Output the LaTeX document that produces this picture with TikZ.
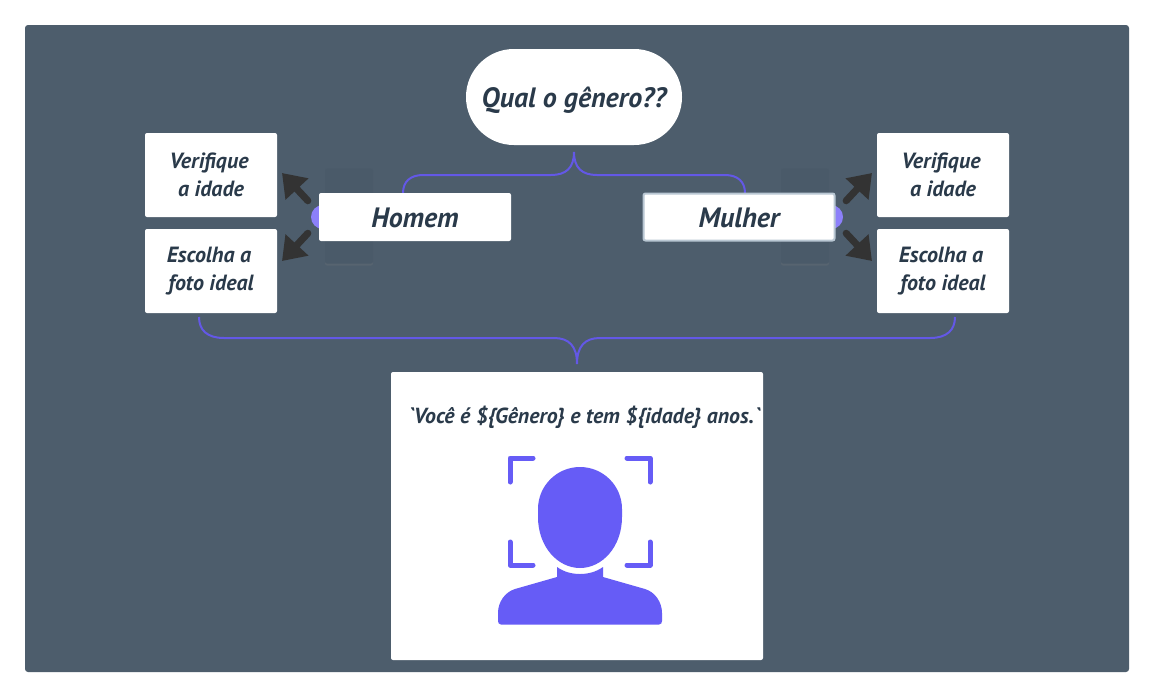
\documentclass[tikz,border=0pt]{standalone}
\usepackage{fontspec}
\setmainfont{PT Sans}
\usetikzlibrary{arrows.meta,shadows}
\definecolor{panelcol}{HTML}{4D5D6C}
\definecolor{ghostcol}{HTML}{4A5A69}
\definecolor{textcol}{HTML}{2A3A4A}
\definecolor{bracecol}{HTML}{6358E6}
\definecolor{iconcol}{HTML}{665CF6}
\definecolor{dotcol}{HTML}{8C80FA}
\definecolor{arrowcol}{HTML}{333333}
\definecolor{edgecol}{HTML}{B9C7D3}
\newcommand{\linegap}{\hspace*{4pt}}
\begin{document}
\begin{tikzpicture}[
    x=1pt, y=-1pt,
    panel/.style={fill=panelcol, rounded corners=3pt, minimum width=1104pt, minimum height=647pt, inner sep=0pt},
    ghost/.style={fill=ghostcol, rounded corners=2pt, minimum width=48pt, minimum height=95pt, inner sep=0pt, drop shadow={shadow xshift=0pt, shadow yshift=-2pt, opacity=0.2}},
    dotnode/.style={circle, fill=dotcol, minimum size=24pt, inner sep=0pt},
    whitebox/.style={fill=white, rounded corners=2pt, inner sep=0pt, align=center, text=textcol, font=\bfseries\itshape\fontsize{22}{28}\selectfont, minimum width=132pt, minimum height=84pt},
    genderbox/.style={whitebox, font=\bfseries\itshape\fontsize{28}{30}\selectfont, text height=24pt, text depth=4pt, minimum width=192pt, minimum height=48pt},
    pillnode/.style={whitebox, rounded corners=47.9pt, font=\bfseries\itshape\fontsize{28}{30}\selectfont, text height=24pt, text depth=4pt, minimum width=216pt, minimum height=96pt},
    resultbox/.style={whitebox, minimum width=372pt, minimum height=288pt},
    brace/.style={draw=bracecol, line width=2pt},
    blockarrow/.style={draw=arrowcol, line width=7pt, line cap=round, shorten <=10pt, -{Triangle[length=22pt, width=30pt]}},
    bracket/.style={draw=iconcol, line width=5pt, line cap=round, line join=round}
]
\useasboundingbox (0,0) rectangle (1154,697);
\fill[white] (0,0) rectangle (1154,697);
\node[panel](bg) at (577,348.5) {};

\node[ghost](ghostL) at (349,216) {};
\node[ghost](ghostR) at (805,216) {};
\node[dotnode](dotL) at (323,217) {};
\node[dotnode](dotR) at (831,217) {};

\coordinate (stemT) at (574,152);
\coordinate (stemB) at (577,364);

\node[pillnode](question) at (574,97) {Qual o gênero??};
\node[whitebox](verifyL) at (211,175) {Verifique\linegap\\a idade};
\node[whitebox](photoL) at (211,271) {Escolha a\linegap\\foto ideal};
\node[whitebox](verifyR) at (943,175) {Verifique\linegap\\a idade};
\node[whitebox](photoR) at (943,271) {Escolha a\linegap\\foto ideal};
\node[resultbox](result) at (577,516) {};
\node[text=textcol, font=\bfseries\itshape\fontsize{21.8}{24}\selectfont, inner sep=0pt](sentence) at (584,417) {\textasciigrave Você é \$\{Gênero\} e tem \$\{idade\} anos.\textasciigrave};

\draw[brace] (stemT) .. controls (574,168) and (582,175) .. (597,175) -- (725,175) .. controls (738,175) and (745,182) .. (745,193);
\draw[brace] (stemT) .. controls (574,168) and (566,175) .. (551,175) -- (423,175) .. controls (410,175) and (403,182) .. (403,193);
\draw[brace] (stemB) .. controls (577,346) and (585,338) .. (600,338) -- (930,338) .. controls (947,338) and (955,330) .. (955,317);
\draw[brace] (stemB) .. controls (577,346) and (569,338) .. (554,338) -- (224,338) .. controls (207,338) and (199,330) .. (199,317);

\node[genderbox](man) at (415,217) {Homem};
\node[genderbox, draw=edgecol, line width=2pt, minimum width=191pt, minimum height=47pt](woman) at (739,217) {Mulher};

\coordinate (tipVL) at (282,173);
\coordinate (tipPL) at (282,261);
\coordinate (tipVR) at (872,173);
\coordinate (tipPR) at (872,261);
\draw[blockarrow] (dotL) -- (tipVL);
\draw[blockarrow] (dotL) -- (tipPL);
\draw[blockarrow] (dotR) -- (tipVR);
\draw[blockarrow] (dotR) -- (tipPR);

\fill[iconcol] (538,509) arc[start angle=180, end angle=360, x radius=42pt, y radius=-42pt] -- (622,517) .. controls (622,547) and (602,568) .. (580,568) .. controls (558,568) and (538,547) .. (538,517) -- cycle;
\fill[iconcol] (557,567) .. controls (564,572) and (572,574) .. (580,574) .. controls (588,574) and (596,572) .. (603,567) -- (603,577) -- (645,589) .. controls (655,592) and (662,602) .. (662,613) -- (662,621) .. controls (662,623) and (661,624.5) .. (659,624.5) -- (501,624.5) .. controls (499,624.5) and (498,623) .. (498,621) -- (498,613) .. controls (498,602) and (505,592) .. (515,589) -- (557,577) -- cycle;
\draw[bracket] (510,482) -- (510,458) -- (533,458);
\draw[bracket] (627,458) -- (650,458) -- (650,482);
\draw[bracket] (510,542) -- (510,565) -- (533,565);
\draw[bracket] (627,565) -- (650,565) -- (650,542);
\end{tikzpicture}
\end{document}
